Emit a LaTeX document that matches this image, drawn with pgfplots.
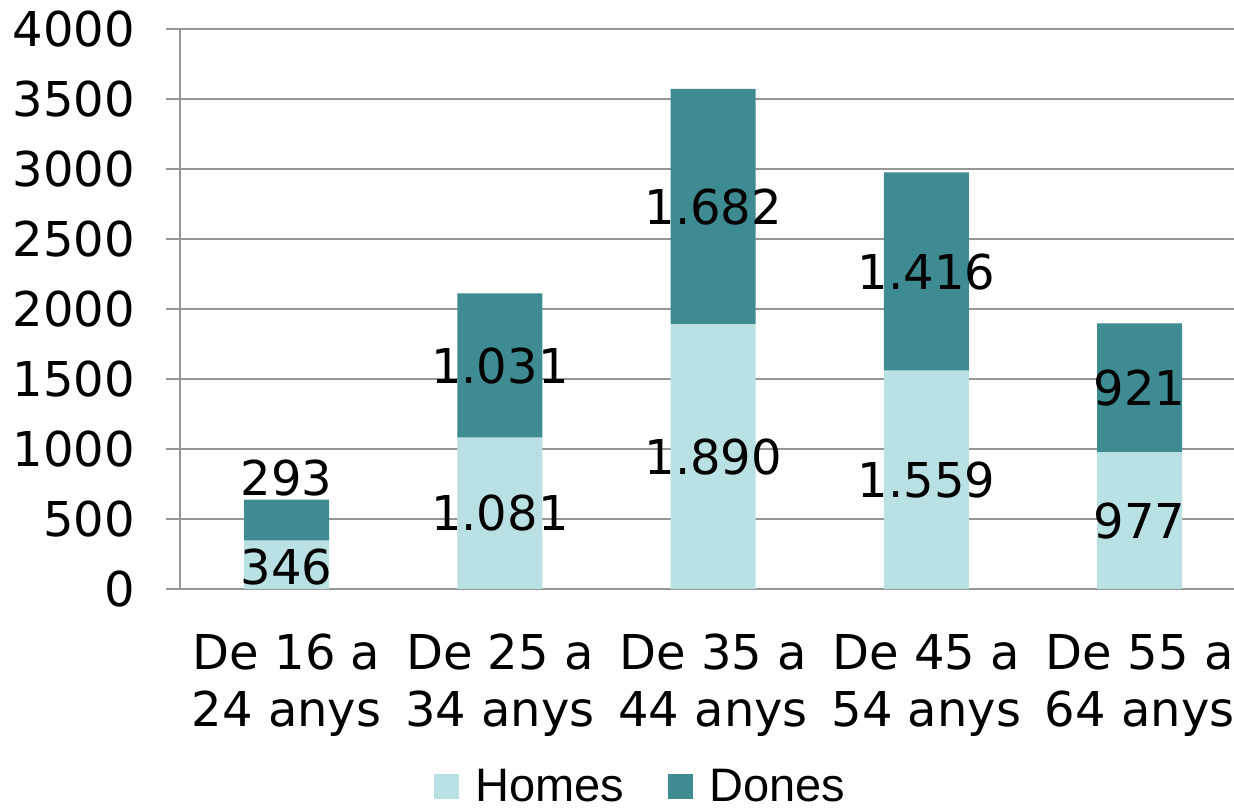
\documentclass[border=0pt]{standalone}
\usepackage{fontspec}
\setmainfont{DejaVu Sans}
\newfontfamily\legfont{Liberation Sans}
\usepackage{pgfplots}
\pgfplotsset{compat=1.18}
\definecolor{homes}{RGB}{185,224,226}
\definecolor{dones}{RGB}{62,139,145}
\definecolor{gridgray}{RGB}{150,150,150}

\begin{document}
\begin{tikzpicture}[font=\fontsize{24}{28.5}\selectfont]
\begin{axis}[
    scale only axis,
    width=527pt, height=280pt,
    ybar stacked, bar width=42.5pt,
    xmin=-0.5, xmax=4.442,
    ymin=0, ymax=4000,
    ytick={0,500,...,4000},
    xtick={0,...,4},
    xticklabels={{De 16 a\\24 anys},{De 25 a\\34 anys},{De 35 a\\44 anys},{De 45 a\\54 anys},{De 55 a\\64 anys}},
    xticklabel style={align=center, yshift=-12pt},
    yticklabel style={xshift=-12pt},
    minor xtick={-0.5,0.5,1.5,2.5,3.5},
    xtick style={draw=none},
    tick align=outside,
    major tick length=7pt, minor tick length=7pt,
    every tick/.style={gridgray, line width=0.8pt},
    axis x line*=bottom, axis y line*=left,
    axis line style={gridgray, line width=0.8pt, -},
    ymajorgrids, grid style={gridgray, line width=0.8pt},
    /pgf/number format/assume math mode=true,
    /pgf/number format/1000 sep={},
    legend style={draw=none, legend columns=2, at={(0.438,-0.353)}, anchor=center,
        font=\legfont\fontsize{23.5}{28}\selectfont,
        /tikz/every odd column/.append style={column sep=6pt},
        /tikz/every even column/.append style={column sep=20pt}},
    legend image code/.code={\fill[#1] (0pt,-6pt) rectangle (12.5pt,6.5pt);},
    clip=false,
]
\addplot[fill=homes, draw=none] coordinates {(0,346) (1,1081) (2,1890) (3,1559) (4,977)};
\addlegendentry{Homes}
\addplot[fill=dones, draw=none] coordinates {(0,293) (1,1031) (2,1682) (3,1416) (4,921)};
\addlegendentry{Dones}

\coordinate (o) at (rel axis cs:0,0);
\coordinate (t) at (rel axis cs:1,1);
\coordinate (h0) at (axis cs:0,157);
\coordinate (d0) at (axis cs:0,793);
\coordinate (h1) at (axis cs:1,540);
\coordinate (d1) at (axis cs:1,1596);
\coordinate (h2) at (axis cs:2,945);
\coordinate (d2) at (axis cs:2,2731);
\coordinate (h3) at (axis cs:3,780);
\coordinate (d3) at (axis cs:3,2267);
\coordinate (h4) at (axis cs:4,488);
\coordinate (d4) at (axis cs:4,1437);
\end{axis}
\node at (h0) {346};
\node at (d0) {293};
\node at (h1) {1.081};
\node at (d1) {1.031};
\node at (h2) {1.890};
\node at (d2) {1.682};
\node at (h3) {1.559};
\node at (d3) {1.416};
\node at (h4) {977};
\node at (d4) {921};
\pgfresetboundingbox
\path ([shift={(-90pt,-110pt)}]o) rectangle ([shift={(0pt,14.5pt)}]t);
\end{tikzpicture}
\end{document}
